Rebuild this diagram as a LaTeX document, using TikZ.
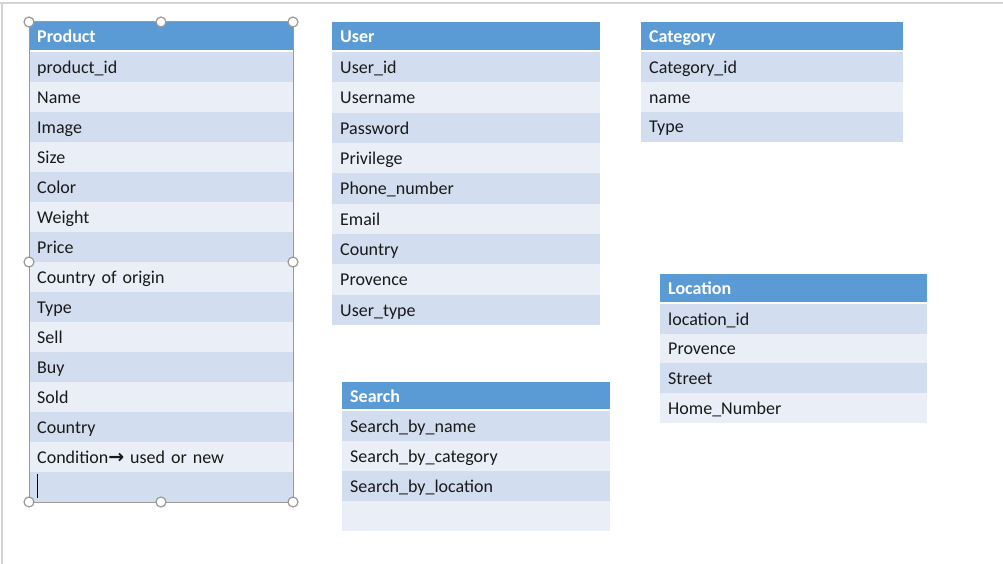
\documentclass[tikz,border=0pt]{standalone}
\usepackage{fontspec}
\setmainfont{Carlito}
\newfontfamily\arrowfont{DejaVu Sans}
\definecolor{hdrblue}{HTML}{5B9BD5}
\definecolor{rowA}{HTML}{D2DEEF}
\definecolor{rowB}{HTML}{EAEFF7}
\definecolor{selgray}{HTML}{9A9A9A}
\definecolor{edgegray}{HTML}{D4D4D4}
\tikzset{
  cell/.style={anchor=north west, inner xsep=8pt, inner ysep=0pt, align=left,
    text height=14pt, text depth=1.4pt,
    font=\fontsize{18}{20}\selectfont, text=black!90},
  hdrcell/.style={cell, fill=hdrblue, text=white, font=\fontsize{18}{20}\selectfont\bfseries},
  selframe/.style={draw=selgray, line width=1pt},
  handle/.style={circle, draw=selgray, fill=white, line width=1.2pt, minimum size=10pt, inner sep=0pt},
}
% #1 name, #2 x, #3 top y, #4 width, #5 header height, #6 row height, #7 header, #8 rows
\newcommand{\dbtable}[8]{%
  \node[hdrcell, minimum height=#5pt, text width=#4pt-16pt] (#1-h) at (#2,#3) {#7};
  \foreach \t [count=\i] in {#8} {%
    \ifodd\i \def\rc{rowA}\else \def\rc{rowB}\fi
    \node[cell, fill=\rc, minimum height=#6pt, text width=#4pt-16pt] (#1-\i)
      at (#2,{#3+#5+2+(\i-1)*#6}) {\t};
  }%
}
\begin{document}
\begin{tikzpicture}[x=1pt,y=-1pt]
\useasboundingbox (0,0) rectangle (1003,564);
\fill[white] (0,0) rectangle (1003,564);
\draw[edgegray, line width=1.2pt] (0,3) -- (1003,3);
\draw[edgegray, line width=1.2pt] (2,3) -- (2,564);

\dbtable{prod}{29}{22}{264}{28}{30}{Product}{product\_id, Name, Image, Size, Color, Weight, Price, Country of origin, Type, Sell, Buy, Sold, Country, {Condition{\arrowfont\bfseries\fontsize{19}{20}\selectfont →} used or new}, {}}
\dbtable{user}{332}{22}{268}{28}{30.3}{User}{User\_id, Username, Password, Privilege, Phone\_number, Email, Country, Provence, User\_type}
\dbtable{cat}{641}{22}{262}{28}{29.8}{Category}{Category\_id, name, Type}
\dbtable{loc}{660}{274}{267}{28}{29.6}{Location}{location\_id, Provence, Street, Home\_Number}
\dbtable{srch}{342}{382}{268}{27}{30}{Search}{Search\_by\_name, Search\_by\_category, Search\_by\_location, {}}

% text cursor in the last Product row
\draw[black, line width=0.9pt] (37,474) -- (37,498);

% selection frame around Product table
\draw[selframe] (29,22) rectangle (293,502);
\foreach \p [count=\k] in {(29,22),(161,22),(293,22),(29,262),(293,262),(29,502),(161,502),(293,502)}
  \node[handle] (hd\k) at \p {};
\end{tikzpicture}
\end{document}
